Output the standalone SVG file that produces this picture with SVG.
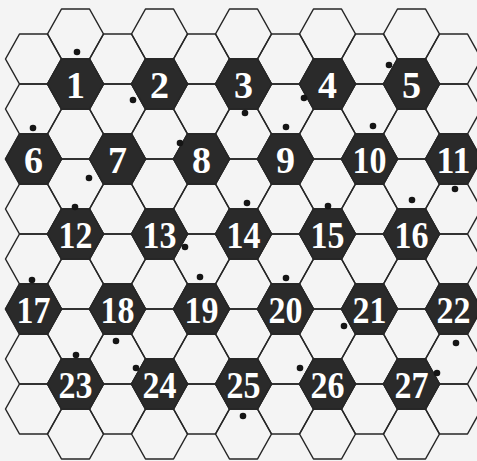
<svg xmlns="http://www.w3.org/2000/svg" xmlns:xlink="http://www.w3.org/1999/xlink" width="477" height="461" viewBox="0 0 477 461">
<style>
.cell{fill:none;stroke:#262626;stroke-width:1.5;stroke-linejoin:round}
.dk{fill:#2a2a2a;stroke:#262626;stroke-width:1.5}
.num{font-family:"Liberation Serif","Times New Roman",serif;font-weight:bold;font-size:38px;fill:#fff;text-anchor:middle}
.dot{fill:#151515}
</style>
<defs>
<polygon id="hx" points="-28,0 -14,-25 14,-25 28,0 14,25 -14,25"/>
</defs>
<rect width="477" height="461" fill="#f4f4f4"/>
<g id="grid" class="cell">
<use href="#hx" x="33.5" y="59"/><use href="#hx" x="33.5" y="109"/><use href="#hx" x="33.5" y="159"/><use href="#hx" x="33.5" y="209"/><use href="#hx" x="33.5" y="259"/><use href="#hx" x="33.5" y="309"/><use href="#hx" x="33.5" y="359"/><use href="#hx" x="33.5" y="409"/>
<use href="#hx" x="117.5" y="59"/><use href="#hx" x="117.5" y="109"/><use href="#hx" x="117.5" y="159"/><use href="#hx" x="117.5" y="209"/><use href="#hx" x="117.5" y="259"/><use href="#hx" x="117.5" y="309"/><use href="#hx" x="117.5" y="359"/><use href="#hx" x="117.5" y="409"/>
<use href="#hx" x="201.5" y="59"/><use href="#hx" x="201.5" y="109"/><use href="#hx" x="201.5" y="159"/><use href="#hx" x="201.5" y="209"/><use href="#hx" x="201.5" y="259"/><use href="#hx" x="201.5" y="309"/><use href="#hx" x="201.5" y="359"/><use href="#hx" x="201.5" y="409"/>
<use href="#hx" x="285.5" y="59"/><use href="#hx" x="285.5" y="109"/><use href="#hx" x="285.5" y="159"/><use href="#hx" x="285.5" y="209"/><use href="#hx" x="285.5" y="259"/><use href="#hx" x="285.5" y="309"/><use href="#hx" x="285.5" y="359"/><use href="#hx" x="285.5" y="409"/>
<use href="#hx" x="369.5" y="59"/><use href="#hx" x="369.5" y="109"/><use href="#hx" x="369.5" y="159"/><use href="#hx" x="369.5" y="209"/><use href="#hx" x="369.5" y="259"/><use href="#hx" x="369.5" y="309"/><use href="#hx" x="369.5" y="359"/><use href="#hx" x="369.5" y="409"/>
<use href="#hx" x="453.5" y="59"/><use href="#hx" x="453.5" y="109"/><use href="#hx" x="453.5" y="159"/><use href="#hx" x="453.5" y="209"/><use href="#hx" x="453.5" y="259"/><use href="#hx" x="453.5" y="309"/><use href="#hx" x="453.5" y="359"/><use href="#hx" x="453.5" y="409"/>
<use href="#hx" x="75.5" y="34"/><use href="#hx" x="75.5" y="84"/><use href="#hx" x="75.5" y="134"/><use href="#hx" x="75.5" y="184"/><use href="#hx" x="75.5" y="234"/><use href="#hx" x="75.5" y="284"/><use href="#hx" x="75.5" y="334"/><use href="#hx" x="75.5" y="384"/><use href="#hx" x="75.5" y="434"/>
<use href="#hx" x="159.5" y="34"/><use href="#hx" x="159.5" y="84"/><use href="#hx" x="159.5" y="134"/><use href="#hx" x="159.5" y="184"/><use href="#hx" x="159.5" y="234"/><use href="#hx" x="159.5" y="284"/><use href="#hx" x="159.5" y="334"/><use href="#hx" x="159.5" y="384"/><use href="#hx" x="159.5" y="434"/>
<use href="#hx" x="243.5" y="34"/><use href="#hx" x="243.5" y="84"/><use href="#hx" x="243.5" y="134"/><use href="#hx" x="243.5" y="184"/><use href="#hx" x="243.5" y="234"/><use href="#hx" x="243.5" y="284"/><use href="#hx" x="243.5" y="334"/><use href="#hx" x="243.5" y="384"/><use href="#hx" x="243.5" y="434"/>
<use href="#hx" x="327.5" y="34"/><use href="#hx" x="327.5" y="84"/><use href="#hx" x="327.5" y="134"/><use href="#hx" x="327.5" y="184"/><use href="#hx" x="327.5" y="234"/><use href="#hx" x="327.5" y="284"/><use href="#hx" x="327.5" y="334"/><use href="#hx" x="327.5" y="384"/><use href="#hx" x="327.5" y="434"/>
<use href="#hx" x="411.5" y="34"/><use href="#hx" x="411.5" y="84"/><use href="#hx" x="411.5" y="134"/><use href="#hx" x="411.5" y="184"/><use href="#hx" x="411.5" y="234"/><use href="#hx" x="411.5" y="284"/><use href="#hx" x="411.5" y="334"/><use href="#hx" x="411.5" y="384"/><use href="#hx" x="411.5" y="434"/>
</g>
<g id="nodes">
<g id="n1"><use class="dk" href="#hx" x="75.5" y="84"/><text class="num" x="75.5" y="98">1</text></g>
<g id="n2"><use class="dk" href="#hx" x="159.5" y="84"/><text class="num" x="159.5" y="98">2</text></g>
<g id="n3"><use class="dk" href="#hx" x="243.5" y="84"/><text class="num" x="243.5" y="98">3</text></g>
<g id="n4"><use class="dk" href="#hx" x="327.5" y="84"/><text class="num" x="327.5" y="98">4</text></g>
<g id="n5"><use class="dk" href="#hx" x="411.5" y="84"/><text class="num" x="411.5" y="98">5</text></g>
<g id="n6"><use class="dk" href="#hx" x="33.5" y="159"/><text class="num" x="33.5" y="173">6</text></g>
<g id="n7"><use class="dk" href="#hx" x="117.5" y="159"/><text class="num" x="117.5" y="173">7</text></g>
<g id="n8"><use class="dk" href="#hx" x="201.5" y="159"/><text class="num" x="201.5" y="173">8</text></g>
<g id="n9"><use class="dk" href="#hx" x="285.5" y="159"/><text class="num" x="285.5" y="173">9</text></g>
<g id="n10"><use class="dk" href="#hx" x="369.5" y="159"/><text class="num" x="369.5" y="173" textLength="34" lengthAdjust="spacingAndGlyphs">10</text></g>
<g id="n11"><use class="dk" href="#hx" x="453.5" y="159"/><text class="num" x="453.5" y="173" textLength="34" lengthAdjust="spacingAndGlyphs">11</text></g>
<g id="n12"><use class="dk" href="#hx" x="75.5" y="234"/><text class="num" x="75.5" y="248" textLength="34" lengthAdjust="spacingAndGlyphs">12</text></g>
<g id="n13"><use class="dk" href="#hx" x="159.5" y="234"/><text class="num" x="159.5" y="248" textLength="34" lengthAdjust="spacingAndGlyphs">13</text></g>
<g id="n14"><use class="dk" href="#hx" x="243.5" y="234"/><text class="num" x="243.5" y="248" textLength="34" lengthAdjust="spacingAndGlyphs">14</text></g>
<g id="n15"><use class="dk" href="#hx" x="327.5" y="234"/><text class="num" x="327.5" y="248" textLength="34" lengthAdjust="spacingAndGlyphs">15</text></g>
<g id="n16"><use class="dk" href="#hx" x="411.5" y="234"/><text class="num" x="411.5" y="248" textLength="34" lengthAdjust="spacingAndGlyphs">16</text></g>
<g id="n17"><use class="dk" href="#hx" x="33.5" y="309"/><text class="num" x="33.5" y="323" textLength="34" lengthAdjust="spacingAndGlyphs">17</text></g>
<g id="n18"><use class="dk" href="#hx" x="117.5" y="309"/><text class="num" x="117.5" y="323" textLength="34" lengthAdjust="spacingAndGlyphs">18</text></g>
<g id="n19"><use class="dk" href="#hx" x="201.5" y="309"/><text class="num" x="201.5" y="323" textLength="34" lengthAdjust="spacingAndGlyphs">19</text></g>
<g id="n20"><use class="dk" href="#hx" x="285.5" y="309"/><text class="num" x="285.5" y="323" textLength="34" lengthAdjust="spacingAndGlyphs">20</text></g>
<g id="n21"><use class="dk" href="#hx" x="369.5" y="309"/><text class="num" x="369.5" y="323" textLength="34" lengthAdjust="spacingAndGlyphs">21</text></g>
<g id="n22"><use class="dk" href="#hx" x="453.5" y="309"/><text class="num" x="453.5" y="323" textLength="34" lengthAdjust="spacingAndGlyphs">22</text></g>
<g id="n23"><use class="dk" href="#hx" x="75.5" y="384"/><text class="num" x="75.5" y="398" textLength="34" lengthAdjust="spacingAndGlyphs">23</text></g>
<g id="n24"><use class="dk" href="#hx" x="159.5" y="384"/><text class="num" x="159.5" y="398" textLength="34" lengthAdjust="spacingAndGlyphs">24</text></g>
<g id="n25"><use class="dk" href="#hx" x="243.5" y="384"/><text class="num" x="243.5" y="398" textLength="34" lengthAdjust="spacingAndGlyphs">25</text></g>
<g id="n26"><use class="dk" href="#hx" x="327.5" y="384"/><text class="num" x="327.5" y="398" textLength="34" lengthAdjust="spacingAndGlyphs">26</text></g>
<g id="n27"><use class="dk" href="#hx" x="411.5" y="384"/><text class="num" x="411.5" y="398" textLength="34" lengthAdjust="spacingAndGlyphs">27</text></g>
</g>
<g id="dots" class="dot">
<circle cx="77" cy="52" r="3.3"/><circle cx="133" cy="100" r="3.3"/><circle cx="33" cy="128" r="3.3"/><circle cx="180" cy="143" r="3.3"/>
<circle cx="389" cy="65" r="3.3"/><circle cx="304" cy="98" r="3.3"/><circle cx="245" cy="113" r="3.3"/><circle cx="286" cy="127" r="3.3"/><circle cx="373" cy="126" r="3.3"/>
<circle cx="89" cy="178" r="3.3"/><circle cx="75" cy="207" r="3.3"/><circle cx="185" cy="247" r="3.3"/><circle cx="32" cy="280" r="3.3"/><circle cx="200" cy="277" r="3.3"/>
<circle cx="455" cy="189" r="3.3"/><circle cx="247" cy="203" r="3.3"/><circle cx="328" cy="206" r="3.3"/><circle cx="412" cy="200" r="3.3"/><circle cx="286" cy="278" r="3.3"/>
<circle cx="116" cy="341" r="3.3"/><circle cx="76" cy="355" r="3.3"/><circle cx="136" cy="368" r="3.3"/>
<circle cx="344" cy="326" r="3.3"/><circle cx="456" cy="343" r="3.3"/><circle cx="300" cy="368" r="3.3"/><circle cx="437" cy="373" r="3.3"/><circle cx="243" cy="416" r="3.3"/>
</g>
</svg>
